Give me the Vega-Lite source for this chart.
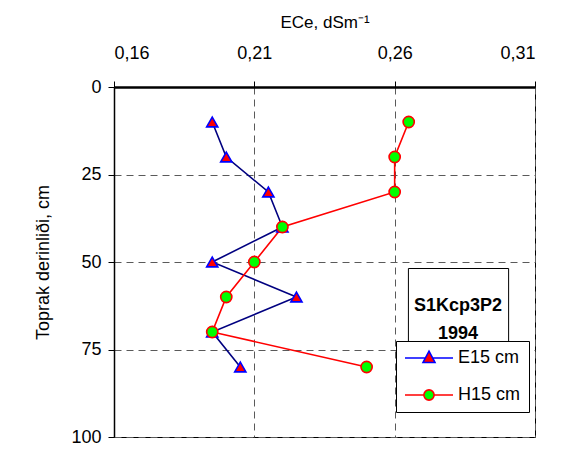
{
  "$schema": "https://vega.github.io/schema/vega-lite/v6.json",
  "width": 421,
  "height": 350,
  "autosize": {"type": "none"},
  "padding": {"left": 114, "top": 87, "right": 46, "bottom": 38},
  "background": "white",
  "data": {
    "values": [
      {"series": "E15 cm", "depth": 10, "ece": 0.195},
      {"series": "E15 cm", "depth": 20, "ece": 0.200},
      {"series": "E15 cm", "depth": 30, "ece": 0.215},
      {"series": "E15 cm", "depth": 40, "ece": 0.220},
      {"series": "E15 cm", "depth": 50, "ece": 0.195},
      {"series": "E15 cm", "depth": 60, "ece": 0.225},
      {"series": "E15 cm", "depth": 70, "ece": 0.195},
      {"series": "E15 cm", "depth": 80, "ece": 0.205},
      {"series": "H15 cm", "depth": 10, "ece": 0.265},
      {"series": "H15 cm", "depth": 20, "ece": 0.260},
      {"series": "H15 cm", "depth": 30, "ece": 0.260},
      {"series": "H15 cm", "depth": 40, "ece": 0.220},
      {"series": "H15 cm", "depth": 50, "ece": 0.210},
      {"series": "H15 cm", "depth": 60, "ece": 0.200},
      {"series": "H15 cm", "depth": 70, "ece": 0.195},
      {"series": "H15 cm", "depth": 80, "ece": 0.250}
    ]
  },
  "layer": [
    {
      "mark": {"type": "line", "strokeWidth": 1.6},
      "encoding": {
        "x": {
          "field": "ece",
          "type": "quantitative",
          "scale": {"domain": [0.16, 0.31], "nice": false, "zero": false},
          "axis": {
            "orient": "top",
            "title": "ECe, dSm⁻¹",
            "values": [0.16, 0.21, 0.26, 0.31],
            "labelExpr": "replace(format(datum.value, '.2f'), '.', ',')",
            "tickSize": 6,
            "labelPadding": 19,
            "titlePadding": 13
          }
        },
        "y": {
          "field": "depth",
          "type": "quantitative",
          "scale": {"domain": [0, 100], "reverse": true, "nice": false},
          "axis": {
            "title": "Toprak derinliði, cm",
            "titleFontSize": 18,
            "values": [0, 25, 50, 75, 100],
            "tickSize": 6,
            "labelPadding": 7,
            "titlePadding": 18,
            "domainWidth": 1.5
          }
        },
        "detail": {"field": "series", "type": "nominal"},
        "color": {
          "condition": {"test": "datum.series === 'E15 cm'", "value": "#000080"},
          "value": "#FF0000"
        },
        "order": {"field": "depth", "type": "quantitative"}
      }
    },
    {
      "mark": {"type": "point", "filled": true, "size": 125, "strokeWidth": 1.6, "opacity": 1},
      "encoding": {
        "x": {"field": "ece", "type": "quantitative"},
        "y": {"field": "depth", "type": "quantitative"},
        "shape": {
          "condition": {"test": "datum.series === 'E15 cm'", "value": "triangle-up"},
          "value": "circle"
        },
        "fill": {
          "condition": {"test": "datum.series === 'E15 cm'", "value": "#FF0000"},
          "value": "#00FF00"
        },
        "stroke": {
          "condition": {"test": "datum.series === 'E15 cm'", "value": "#0000FF"},
          "value": "#FF0000"
        }
      }
    },
    {
      "description": "Legend keys: a line segment with the series marker at its middle.",
      "transform": [{"filter": "false"}],
      "mark": {"type": "point", "filled": true, "strokeWidth": 1.6, "opacity": 1},
      "encoding": {
        "x": {"field": "ece", "type": "quantitative"},
        "y": {"field": "depth", "type": "quantitative"},
        "shape": {
          "field": "series",
          "type": "nominal",
          "scale": {
            "domain": ["E15 cm", "H15 cm"],
            "range": [
              "M-4,0L-0.6,0M0.6,0L4,0M0,-1.15L1,0.75L-1,0.75Z",
              "M-4,0L-0.85,0M0.85,0L4,0M-0.85,0A0.85,0.85 0 1,0 0.85,0A0.85,0.85 0 1,0 -0.85,0Z"
            ]
          },
          "legend": {
            "title": null,
            "orient": "none",
            "legendX": 282,
            "legendY": 254,
            "fillColor": "white",
            "strokeColor": "black",
            "padding": 8,
            "symbolSize": 144,
            "symbolOffset": 16,
            "symbolOpacity": 1,
            "symbolStrokeWidth": 1.6,
            "labelOffset": 20,
            "rowPadding": 19
          }
        },
        "fill": {
          "field": "series",
          "type": "nominal",
          "scale": {"domain": ["E15 cm", "H15 cm"], "range": ["#FF0000", "#00FF00"]}
        },
        "stroke": {
          "field": "series",
          "type": "nominal",
          "scale": {"domain": ["E15 cm", "H15 cm"], "range": ["#0000FF", "#FF0000"]}
        }
      }
    },
    {
      "data": {"values": [{"label": "S1Kcp3P2"}]},
      "mark": {"type": "rect", "fill": "white", "stroke": "black", "strokeWidth": 1},
      "encoding": {
        "x": {"datum": 0.2649, "type": "quantitative"},
        "x2": {"datum": 0.3006},
        "y": {"datum": 51.86, "type": "quantitative"},
        "y2": {"datum": 72.71}
      }
    },
    {
      "data": {"values": [{"label": "S1Kcp3P2"}]},
      "mark": {
        "type": "text",
        "font": "Liberation Sans",
        "fontSize": 18,
        "fontWeight": "bold",
        "align": "center",
        "baseline": "middle",
        "lineHeight": 28,
        "color": "black"
      },
      "encoding": {
        "x": {"datum": 0.2826, "type": "quantitative"},
        "y": {"datum": 62.6, "type": "quantitative"},
        "text": {"value": ["S1Kcp3P2", "1994"]}
      }
    }
  ],
  "config": {
    "font": "Liberation Sans",
    "view": {"stroke": "black", "strokeWidth": 1},
    "axis": {
      "labelFont": "Liberation Sans",
      "titleFont": "Liberation Sans",
      "labelFontSize": 18,
      "titleFontSize": 17,
      "titleFontWeight": "normal",
      "labelColor": "black",
      "titleColor": "black",
      "domainColor": "black",
      "tickColor": "black",
      "grid": true,
      "gridColor": "#5a5a5a",
      "gridDash": [7, 5],
      "gridWidth": 1
    },
    "axisX": {"domainWidth": 2.5},
    "legend": {
      "labelFont": "Liberation Sans",
      "labelFontSize": 18,
      "labelColor": "black"
    }
  }
}
